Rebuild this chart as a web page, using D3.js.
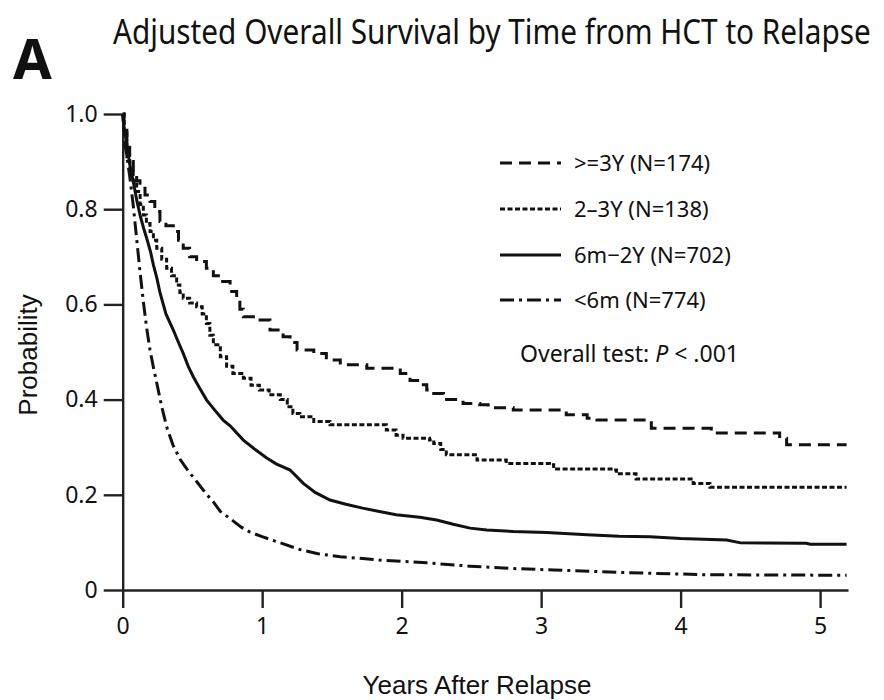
<!DOCTYPE html>
<html>
<head>
<meta charset="utf-8">
<script src="https://cdn.jsdelivr.net/npm/d3@7"></script>
<style>
  html, body { margin: 0; padding: 0; background: #fff; }
  svg { display: block; }
  .hum { font-family: "Noto Sans", "Open Sans", sans-serif; fill: #111; }
  .arl { font-family: "Liberation Sans Narrow", "Liberation Sans", Arial, sans-serif; fill: #111; }
</style>
</head>
<body>
<svg id="chart" width="884" height="700"></svg>
<script>
// Survival estimates, [years after relapse, probability]
const geq3Y = [[0,1],[0.01,0.97],[0.03,0.93],[0.05,0.90],[0.076,0.879],[0.10,0.86],[0.124,0.844],[0.16,0.83],[0.196,0.816],[0.23,0.795],[0.267,0.774],[0.31,0.765],[0.363,0.753],[0.40,0.735],[0.434,0.718],[0.48,0.70],[0.53,0.690],[0.60,0.676],[0.65,0.660],[0.70,0.648],[0.77,0.627],[0.817,0.610],[0.84,0.59],[0.865,0.574],[0.96,0.567],[1.056,0.546],[1.15,0.532],[1.20,0.52],[1.25,0.504],[1.37,0.497],[1.46,0.483],[1.56,0.473],[1.75,0.466],[1.99,0.455],[2.04,0.455],[2.06,0.44],[2.13,0.431],[2.18,0.42],[2.23,0.413],[2.30,0.40],[2.44,0.392],[2.56,0.389],[2.62,0.383],[2.80,0.378],[3.14,0.378],[3.18,0.368],[3.33,0.361],[3.40,0.357],[3.78,0.357],[3.79,0.340],[4.21,0.340],[4.22,0.330],[4.66,0.330],[4.71,0.319],[4.76,0.305],[5.19,0.305]];
const y2to3 = [[0,1],[0.01,0.96],[0.03,0.91],[0.052,0.879],[0.075,0.86],[0.10,0.837],[0.125,0.81],[0.148,0.788],[0.17,0.77],[0.196,0.753],[0.22,0.735],[0.244,0.718],[0.28,0.695],[0.315,0.676],[0.35,0.66],[0.387,0.641],[0.41,0.625],[0.434,0.613],[0.48,0.603],[0.53,0.595],[0.57,0.58],[0.60,0.56],[0.625,0.535],[0.65,0.515],[0.70,0.49],[0.745,0.47],[0.79,0.455],[0.865,0.445],[0.92,0.43],[0.98,0.42],[1.05,0.41],[1.13,0.40],[1.18,0.385],[1.22,0.371],[1.27,0.364],[1.37,0.354],[1.486,0.347],[1.84,0.347],[1.89,0.336],[1.96,0.325],[2.01,0.319],[2.20,0.315],[2.23,0.308],[2.28,0.295],[2.32,0.284],[2.54,0.273],[2.75,0.266],[3.06,0.263],[3.09,0.254],[3.52,0.252],[3.54,0.244],[3.68,0.233],[4.07,0.233],[4.09,0.224],[4.21,0.216],[5.19,0.216]];
const m6to2Y = [[0,1],[0.01,0.97],[0.03,0.937],[0.05,0.895],[0.076,0.858],[0.10,0.82],[0.124,0.788],[0.15,0.76],[0.172,0.739],[0.20,0.71],[0.22,0.683],[0.245,0.655],[0.267,0.625],[0.31,0.58],[0.363,0.546],[0.40,0.52],[0.434,0.497],[0.47,0.47],[0.506,0.448],[0.55,0.425],[0.602,0.399],[0.66,0.378],[0.72,0.357],[0.77,0.345],[0.865,0.315],[0.95,0.295],[1.03,0.278],[1.10,0.265],[1.20,0.252],[1.295,0.224],[1.38,0.205],[1.486,0.189],[1.60,0.18],[1.72,0.172],[1.84,0.165],[1.96,0.158],[2.13,0.153],[2.25,0.147],[2.37,0.138],[2.49,0.130],[2.61,0.126],[2.80,0.123],[3.04,0.121],[3.33,0.116],[3.56,0.113],[3.78,0.112],[4.0,0.108],[4.33,0.105],[4.43,0.099],[4.90,0.098],[4.93,0.096],[5.19,0.096]];
const lt6m = [[0,1],[0.02,0.93],[0.05,0.87],[0.076,0.807],[0.10,0.738],[0.124,0.669],[0.148,0.606],[0.172,0.55],[0.196,0.504],[0.22,0.468],[0.244,0.435],[0.28,0.385],[0.315,0.343],[0.36,0.305],[0.41,0.275],[0.47,0.25],[0.53,0.228],[0.59,0.205],[0.65,0.185],[0.70,0.165],[0.77,0.150],[0.85,0.132],[0.91,0.122],[1.00,0.112],[1.13,0.099],[1.27,0.085],[1.40,0.076],[1.56,0.070],[1.84,0.063],[2.18,0.057],[2.49,0.050],[2.80,0.045],[3.09,0.042],[3.56,0.037],[4.19,0.032],[5.19,0.031]];

const seriesLabels = [">=3Y (N=174)", "2\u20133Y (N=138)", "6m\u22122Y (N=702)", "<6m (N=774)"];
const xTicks = [0, 1, 2, 3, 4, 5];
const yTicks = [0, 0.2, 0.4, 0.6, 0.8, 1.0];
const yTickLabels = ["0", "0.2", "0.4", "0.6", "0.8", "1.0"];

const svg = d3.select("#chart");
const x = d3.scaleLinear().domain([0, 5.2]).range([122.7, 848]);
const y = d3.scaleLinear().domain([0, 1]).range([590, 114]);

const series = [
  { data: geq3Y,  dash: "12,7",      curve: d3.curveStepAfter },
  { data: y2to3,  dash: "5,2.5",     curve: d3.curveStepAfter },
  { data: m6to2Y, dash: null,        curve: d3.curveLinear },
  { data: lt6m,   dash: "14,5,3,5",  curve: d3.curveLinear }
];

// Axes
const xAxis = d3.axisBottom(x).tickValues(xTicks).tickFormat(d3.format("d"))
  .tickSize(18).tickSizeOuter(0).tickPadding(10);
const yAxis = d3.axisLeft(y).tickValues(yTicks).tickFormat((d, i) => yTickLabels[i])
  .tickSize(19).tickSizeOuter(0).tickPadding(6);

const gx = svg.append("g").attr("transform", `translate(0,${y(0)})`).call(xAxis);
const gy = svg.append("g").attr("transform", `translate(${x(0)},0)`).call(yAxis);
[gx, gy].forEach(g => {
  g.select(".domain").attr("stroke", "#222").attr("stroke-width", 2.4);
  g.selectAll(".tick line").attr("stroke", "#222").attr("stroke-width", 2.4);
  g.selectAll(".tick text").attr("class", "hum").style("font-size", "23px")
    .style("font-family", '"Noto Sans", "Open Sans", sans-serif').attr("fill", "#111");
});

// Survival curves
series.forEach(s => {
  const line = d3.line().x(d => x(d[0])).y(d => y(d[1])).curve(s.curve);
  svg.append("path").datum(s.data)
    .attr("d", line)
    .attr("fill", "none")
    .attr("stroke", "#111")
    .attr("stroke-width", 3)
    .attr("stroke-dasharray", s.dash);
});

// Legend
const legendRows = [163, 209, 255, 300];
series.forEach((s, i) => {
  svg.append("line")
    .attr("x1", 500).attr("x2", 561)
    .attr("y1", legendRows[i]).attr("y2", legendRows[i])
    .attr("stroke", "#111").attr("stroke-width", 3)
    .attr("stroke-dasharray", s.dash);
  svg.append("text").attr("class", "hum")
    .attr("x", 574).attr("y", legendRows[i]).attr("dy", "0.36em")
    .style("font-size", "22px")
    .text(seriesLabels[i]);
});

const ptest = svg.append("text").attr("class", "hum")
  .attr("x", 520).attr("y", 362).style("font-size", "23px");
ptest.append("tspan").text("Overall test: ");
ptest.append("tspan").style("font-style", "italic").text("P");
ptest.append("tspan").text(" < .001");

// Title, horizontally condensed to span the plot header
const titleG = svg.append("g");
const title = titleG.append("text").attr("class", "hum")
  .attr("x", 0).attr("y", 0)
  .style("font-size", "34px")
  .text("Adjusted Overall Survival by Time from HCT to Relapse");
const natural = title.node().getComputedTextLength();
const sx = Math.min(1, 758 / natural);
titleG.attr("transform", `translate(113,44) scale(${sx},1)`);

svg.append("text").attr("class", "hum")
  .attr("x", 13).attr("y", 79)
  .style("font-size", "56px").style("font-weight", "bold")
  .text("A");

svg.append("text").attr("class", "arl")
  .attr("x", 477).attr("y", 694).attr("text-anchor", "middle")
  .style("font-size", "26px")
  .text("Years After Relapse");

svg.append("text").attr("class", "arl")
  .attr("transform", "translate(37,355) rotate(-90)")
  .attr("text-anchor", "middle")
  .style("font-size", "26px")
  .text("Probability");
</script>
</body>
</html>
